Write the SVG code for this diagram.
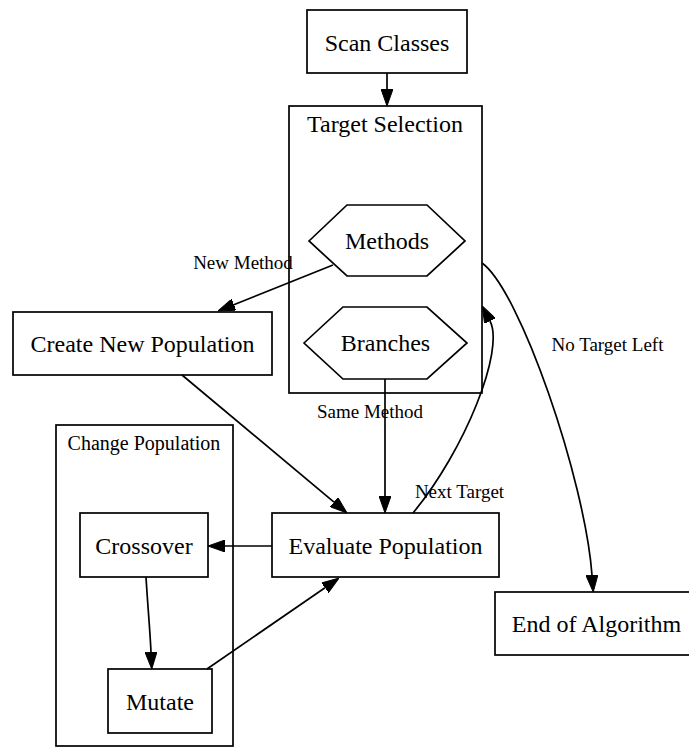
<svg xmlns="http://www.w3.org/2000/svg" width="689" height="747" viewBox="0 0 689 747">
  <style>
    .box { fill: #ffffff; stroke: #000000; stroke-width: 1.7; }
    .cluster { fill: none; stroke: #000000; stroke-width: 1.7; }
    .edge { fill: none; stroke: #000000; stroke-width: 1.7; marker-end: url(#arrow); }
    .lbl { font-family: "Liberation Serif", "Times New Roman", serif; font-size: 24px; fill: #000000; text-anchor: middle; }
    .elbl { font-family: "Liberation Serif", "Times New Roman", serif; font-size: 19px; fill: #000000; text-anchor: middle; }
    .clbl { font-family: "Liberation Serif", "Times New Roman", serif; font-size: 20px; fill: #000000; text-anchor: middle; }
  </style>
  <defs>
    <marker id="arrow" viewBox="0 0 17 12" refX="0" refY="6" markerWidth="17" markerHeight="12" markerUnits="userSpaceOnUse" orient="auto">
      <path d="M0,0 L17,6 L0,12 z" fill="#000000" stroke="#000000" stroke-width="1"/>
    </marker>
  </defs>
  <rect width="689" height="747" fill="#ffffff"/>

  <!-- clusters -->
  <g id="cluster_target_selection">
    <rect class="cluster" x="289" y="106" width="193" height="287"/>
    <text class="lbl" x="385" y="132">Target Selection</text>
  </g>
  <g id="cluster_change_population">
    <rect class="cluster" x="56" y="425" width="177" height="321"/>
    <text class="clbl" x="144" y="450">Change Population</text>
  </g>

  <!-- nodes -->
  <g id="scan_classes">
    <rect class="box" x="307" y="10" width="160" height="63"/>
    <text class="lbl" x="387" y="51">Scan Classes</text>
  </g>
  <g id="methods">
    <polygon class="box" points="309,241 347,205 427,205 465,241 427,276 347,276"/>
    <text class="lbl" x="387" y="249">Methods</text>
  </g>
  <g id="branches">
    <polygon class="box" points="304,343 343,307 427,307 467,343 427,379 343,379"/>
    <text class="lbl" x="385.5" y="351">Branches</text>
  </g>
  <g id="create_new_population">
    <rect class="box" x="13" y="312" width="259" height="63"/>
    <text class="lbl" x="142.5" y="352">Create New Population</text>
  </g>
  <g id="evaluate_population">
    <rect class="box" x="272" y="513" width="227" height="64"/>
    <text class="lbl" x="385.5" y="553.5">Evaluate Population</text>
  </g>
  <g id="crossover">
    <rect class="box" x="80" y="513" width="128" height="64"/>
    <text class="lbl" x="144" y="553.5">Crossover</text>
  </g>
  <g id="mutate">
    <rect class="box" x="108" y="669" width="104" height="64"/>
    <text class="lbl" x="160" y="709.5">Mutate</text>
  </g>
  <g id="end_of_algorithm">
    <rect class="box" x="495" y="592" width="203" height="63"/>
    <text class="lbl" x="596.5" y="632">End of Algorithm</text>
  </g>

  <!-- connectors -->
  <g id="edges">
    <path class="edge" d="M387,73 L387,89"/>
    <path class="edge" d="M333,265 L233.8,304.7"/>
    <path class="edge" d="M385,379 L385,496"/>
    <path class="edge" d="M182,375 L334,502.1"/>
    <path class="edge" d="M272,546 L225,546"/>
    <path class="edge" d="M146,577 C148,610 150,630 151,652"/>
    <path class="edge" d="M207,669 L325,587.7"/>
    <path class="edge" d="M413,513 C465,450 505,350 490,321"/>
    <path class="edge" d="M482,263 C520,290 585,480 592,575"/>
    <text class="elbl" x="243" y="269">New Method</text>
    <text class="elbl" x="370" y="418">Same Method</text>
    <text class="elbl" x="459.5" y="498">Next Target</text>
    <text class="elbl" x="607.5" y="351">No Target Left</text>
  </g>
</svg>
